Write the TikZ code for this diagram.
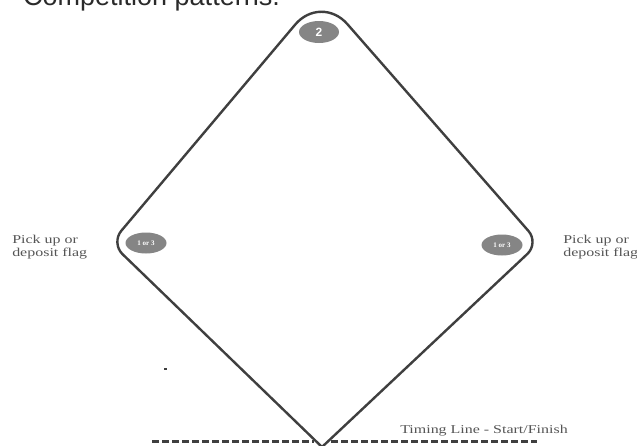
\documentclass[tikz,border=0pt]{standalone}
\usepackage{fontspec}
\setmainfont{Liberation Serif}
\setsansfont{Liberation Sans}
\usetikzlibrary{shapes.geometric}
\definecolor{FieldLine}{HTML}{3F3F3F}
\definecolor{MarkerGrey}{HTML}{858585}
\definecolor{NoteGrey}{HTML}{555555}
\definecolor{TitleGrey}{HTML}{2A2A2A}
\tikzset{
  Marker/.style={ellipse, fill=MarkerGrey, text=white, inner sep=0pt,
    minimum width=41pt, minimum height=21pt, font=\bfseries\fontsize{7}{7}\selectfont},
  Note/.style={text=NoteGrey, inner sep=0pt, align=left, xscale=1.33,
    font=\fontsize{12}{12.5}\selectfont},
  TimingDash/.style={FieldLine, line width=3pt, dash pattern=on 7pt off 3pt}
}
\begin{document}
\begin{tikzpicture}[x=1pt, y=-1pt, line cap=butt]
    \clip (0,0) rectangle (637,445);
    \fill[white] (0,0) rectangle (637,445);
    \node[anchor=base west, inner sep=0pt, text=TitleGrey,
      font=\sffamily\fontsize{27}{29}\selectfont] (title) at (23,5) {Competition patterns.};

    \coordinate (bottom) at (322,447);
    \coordinate (left) at (111,243);
    \coordinate (top) at (321,-6);
    \coordinate (right) at (539,243);
    \draw[FieldLine, line width=2.4pt, line join=round]
      (bottom) [rounded corners=16pt] -- (left) [rounded corners=40pt] -- (top)
      [rounded corners=16pt] -- (right) [sharp corners] -- (bottom);

    \node[Marker, minimum width=40pt, minimum height=22pt,
      font=\sffamily\bfseries\fontsize{12}{12}\selectfont] (two) at (319,32) {2};
    \node[Marker] (westflag) at (146,243) {1 or 3};
    \node[Marker] (eastflag) at (502,245) {1 or 3};

    \node[Note, anchor=west] (westnote) at (12,247) {Pick up or\\deposit flag};
    \node[Note, anchor=west] (eastnote) at (563,247) {Pick up or\\deposit flag};
    \node[Note, anchor=base west] (timing) at (400,433) {Timing Line - Start/Finish};

    \draw[TimingDash] (152,441) -- (314,441);
    \draw[TimingDash] (331,441) -- (537,441);

    \fill[FieldLine] (164,368) rectangle (167,370);
\end{tikzpicture}
\end{document}
